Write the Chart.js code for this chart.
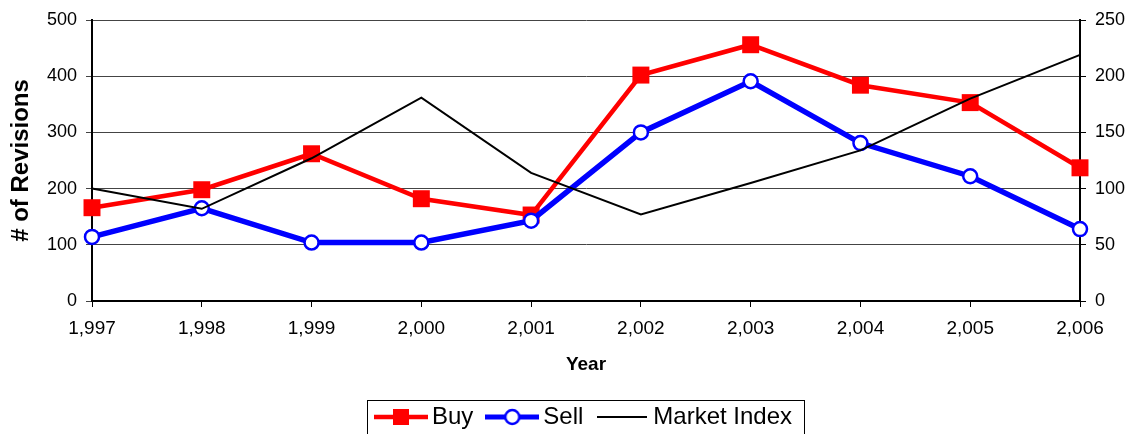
<!DOCTYPE html>
<html>
<head>
<meta charset="utf-8">
<script src="https://cdn.jsdelivr.net/npm/chart.js@4"></script>
<style>
  html, body { margin: 0; padding: 0; background: #fff; }
  #wrap { width: 1136px; height: 434px; }
</style>
</head>
<body>
<div id="wrap"><canvas id="myChart" width="1136" height="434"></canvas></div>
<script>
// data
var years = [1997, 1998, 1999, 2000, 2001, 2002, 2003, 2004, 2005, 2006];
var buy = [166, 198, 262, 182, 153, 402, 456, 384, 353, 237];
var sell = [114, 165, 104, 104, 143, 300, 391, 281, 222, 128];
var marketIndex = [100, 82, 127, 181, 114, 77, 105, 134, 180, 219];

var leftTicks = [0, 100, 200, 300, 400, 500];
var rightTicks = [0, 50, 100, 150, 200, 250];

// little legend pictures: line with its marker
function legendIcon(color, lineW, marker, w) {
  var c = document.createElement('canvas');
  c.width = w; c.height = 20;
  var g = c.getContext('2d');
  g.strokeStyle = color;
  g.lineWidth = lineW;
  g.beginPath(); g.moveTo(0, 10); g.lineTo(w, 10); g.stroke();
  if (marker === 'square') {
    g.fillStyle = color;
    g.fillRect(w / 2 - 8, 2, 16, 16);
  } else if (marker === 'circle') {
    g.fillStyle = '#fff';
    g.lineWidth = 2.5;
    g.beginPath(); g.arc(w / 2, 10, 7, 0, Math.PI * 2); g.fill(); g.stroke();
  }
  return c;
}

// legend sits a little right and low in the original
var legendNudge = {
  id: 'legendNudge',
  afterLayout: function(chart) {
    var lg = chart.legend;
    if (!lg) return;
    lg.left += 19; lg.right += 19;
    lg.top += 5; lg.bottom += 5;
  }
};

// frame round the legend
var legendFrame = {
  id: 'legendFrame',
  afterDraw: function(chart) {
    var boxes = chart.legend && chart.legend.legendHitBoxes;
    if (!boxes || !boxes.length) return;
    var last = boxes[boxes.length - 1];
    var l = boxes[0].left - 15, r = last.left + last.width + 12;
    var t = boxes[0].top - 5;
    var ctx = chart.ctx;
    ctx.save();
    ctx.strokeStyle = '#000';
    ctx.lineWidth = 1;
    ctx.strokeRect(Math.round(l) + 0.5, Math.round(t) + 0.5, Math.round(r - l), 60);
    ctx.restore();
  }
};

document.addEventListener("DOMContentLoaded", function(event) {
  var ctx = document.getElementById('myChart').getContext('2d');
  Chart.defaults.font.family = '"Liberation Sans", Arial, sans-serif';
  Chart.defaults.color = '#000';

  var icons = [
    legendIcon('#ff0000', 4.5, 'square', 54),
    legendIcon('#0000ff', 5, 'circle', 54),
    legendIcon('#000000', 2, null, 50)
  ];

  new Chart(ctx, {
    type: 'line',
    data: {
      labels: years.map(function(y) { return y.toLocaleString('en-US'); }),
      datasets: [{
        label: 'Buy',
        data: buy,
        yAxisID: 'y',
        borderColor: '#ff0000',
        backgroundColor: '#ff0000',
        borderWidth: 4.5,
        pointStyle: 'rect',
        pointRadius: 12,
        pointBorderWidth: 0,
        order: 2
      }, {
        label: 'Sell',
        data: sell,
        yAxisID: 'y',
        borderColor: '#0000ff',
        backgroundColor: '#ffffff',
        borderWidth: 5.5,
        pointStyle: 'circle',
        pointRadius: 7,
        pointBorderWidth: 2.5,
        order: 1
      }, {
        label: 'Market Index',
        data: marketIndex,
        yAxisID: 'y1',
        borderColor: '#000000',
        borderWidth: 2,
        pointRadius: 0,
        order: 0
      }]
    },
    options: {
      responsive: false,
      animation: false,
      layout: { padding: { top: 20, right: 0, left: 0, bottom: 0 } },
      plugins: {
        tooltip: { enabled: false },
        legend: {
          position: 'bottom',
          labels: {
            usePointStyle: true,
            pointStyleWidth: 38,
            boxHeight: 20,
            padding: 20,
            font: { size: 24 },
            generateLabels: function(chart) {
              return chart.data.datasets.map(function(ds, i) {
                return { text: ds.label, pointStyle: icons[i], datasetIndex: i, fontColor: '#000', lineWidth: 0 };
              });
            }
          }
        }
      },
      scales: {
        x: {
          afterFit: function(scale) { scale.height = 79; },
          grid: { display: true, drawOnChartArea: false, drawTicks: true, tickLength: 6, color: '#000' },
          border: { color: '#000', width: 2 },
          ticks: { font: { size: 19 }, padding: 10, maxRotation: 0, autoSkip: false },
          title: { display: true, text: 'Year', font: { size: 19, weight: 'bold' }, padding: { top: 0, bottom: 4 } }
        },
        y: {
          position: 'left',
          min: 0, max: 500,
          afterFit: function(scale) { scale.width = 92; },
          afterBuildTicks: function(scale) { scale.ticks = leftTicks.map(function(v) { return { value: v }; }); },
          grid: { color: '#444', lineWidth: 1, tickLength: 6 },
          border: { color: '#000', width: 2 },
          ticks: { font: { size: 18 }, padding: 9 },
          title: { display: true, text: '# of Revisions', font: { size: 24, weight: 'bold' }, padding: { top: 7, bottom: 0 } }
        },
        y1: {
          position: 'right',
          min: 0, max: 250,
          afterFit: function(scale) { scale.width = 56; },
          afterBuildTicks: function(scale) { scale.ticks = rightTicks.map(function(v) { return { value: v }; }); },
          grid: { drawOnChartArea: false, tickLength: 6, color: '#000' },
          border: { color: '#000', width: 2 },
          ticks: { font: { size: 18 }, padding: 9 }
        }
      }
    },
    plugins: [legendNudge, legendFrame]
  });
});
</script>
</body>
</html>
